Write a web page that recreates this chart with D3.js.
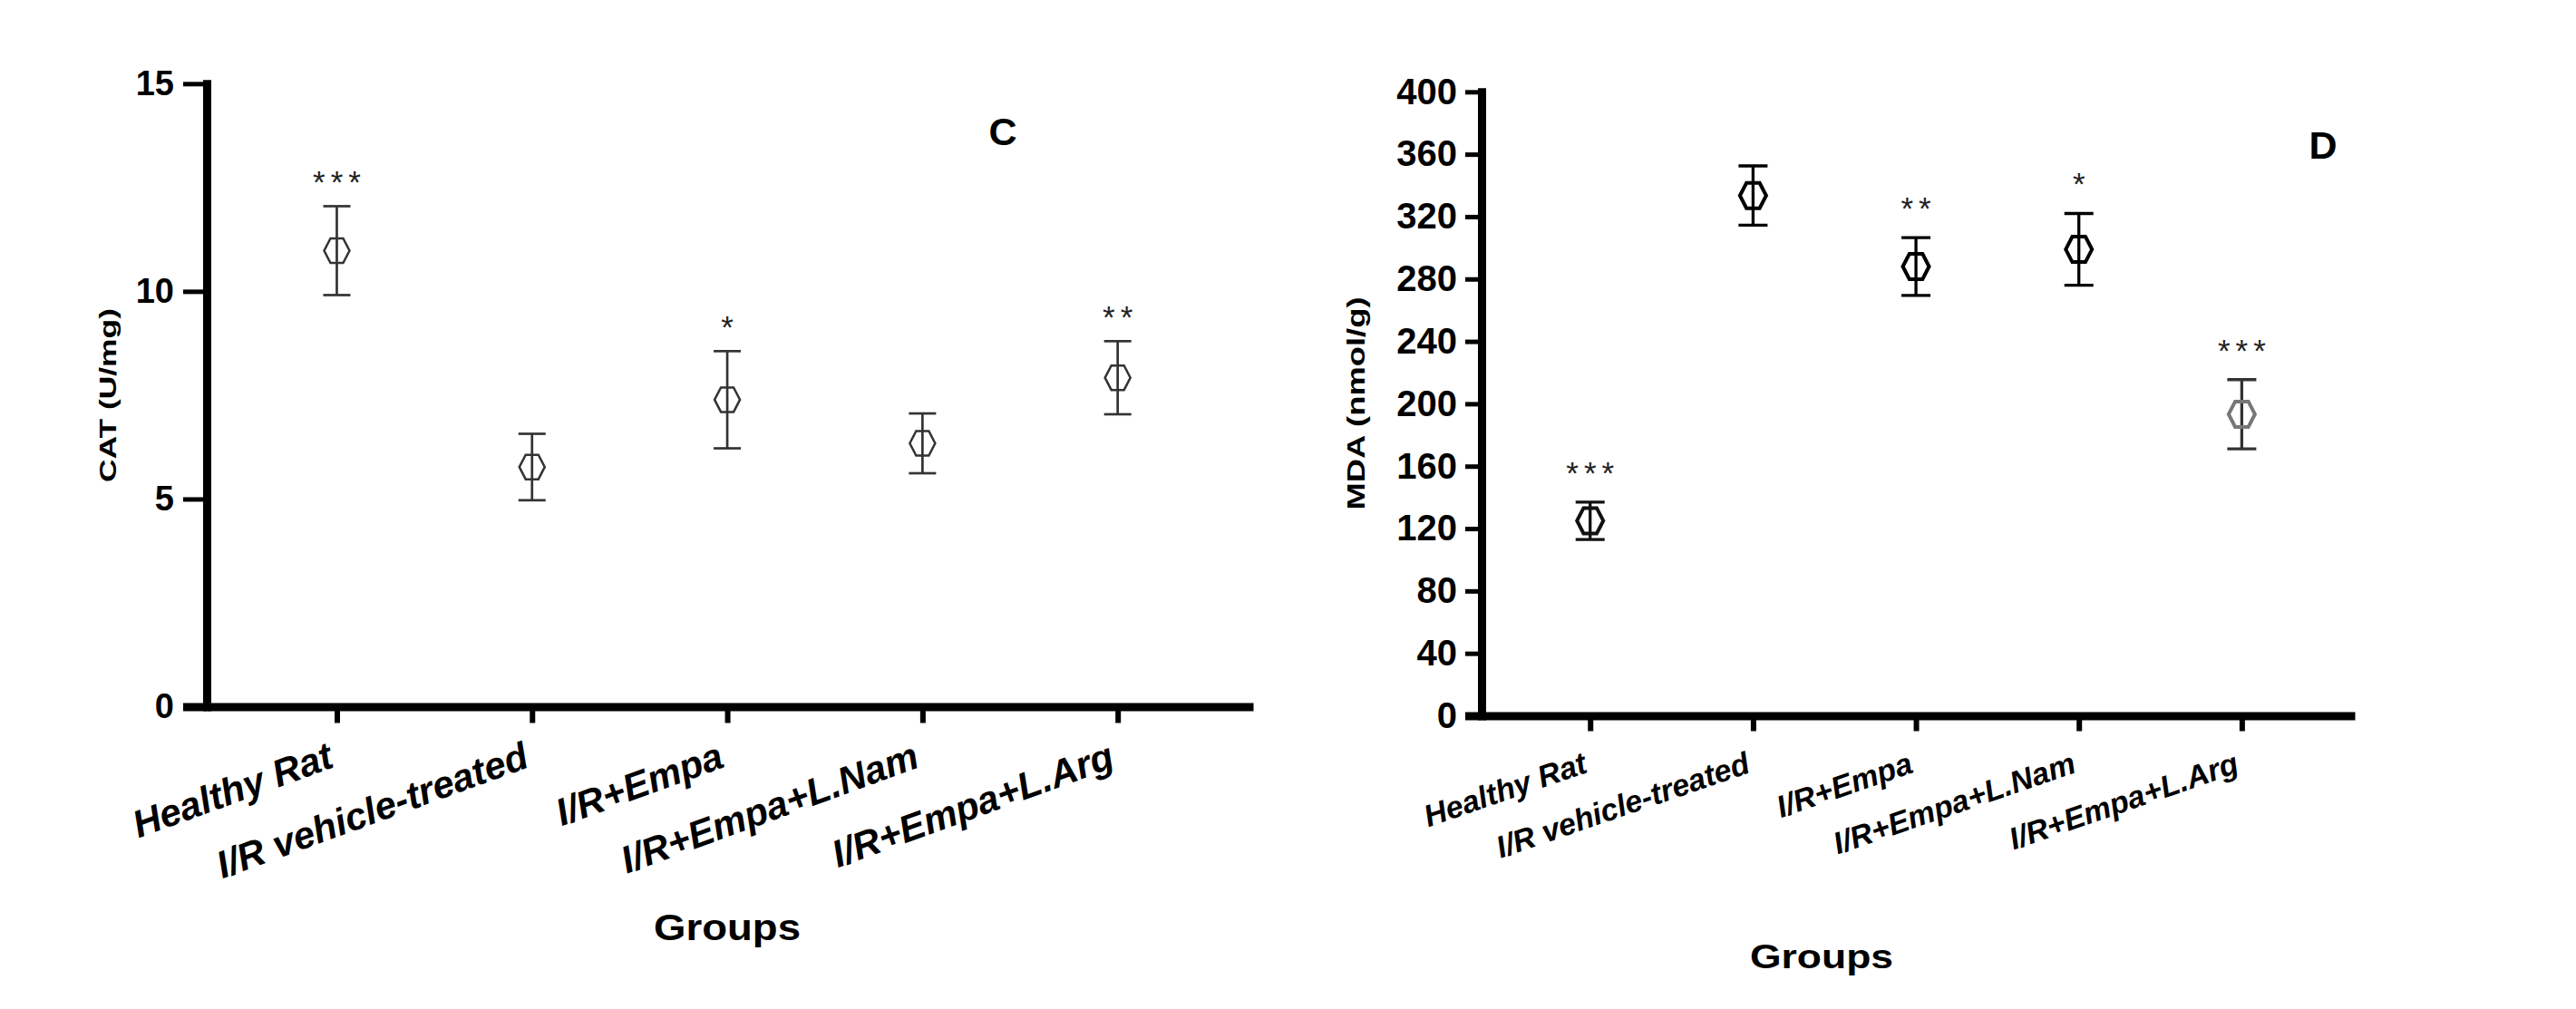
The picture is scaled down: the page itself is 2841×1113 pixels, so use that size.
<!DOCTYPE html>
<html lang="en">
<head>
<meta charset="UTF-8">
<title>CAT and MDA by group</title>
<script src="https://d3js.org/d3.v7.min.js"></script>
<style>
    body { margin: 0; background: #fff; }
    svg { display: block; font-family: "Liberation Sans", Arial, sans-serif; }
</style>
</head>
<body>
<div id="chart"></div>
<script>
// data
const groups = ["Healthy Rat", "I/R vehicle-treated", "I/R+Empa", "I/R+Empa+L.Nam", "I/R+Empa+L.Arg"];

const catMean  = [10.98, 5.77, 7.39, 6.34, 7.92];
const catErr   = [1.07, 0.80, 1.17, 0.72, 0.88];
const catStars = ["***", "", "*", "", "**"];
const catTicks = [0, 5, 10, 15];

const mdaMean  = [125, 333.5, 288, 299, 193.3];
const mdaErr   = [12, 19, 18.5, 23, 22.2];
const mdaStars = ["***", "", "**", "*", "***"];
const mdaTicks = [0, 40, 80, 120, 160, 200, 240, 280, 320, 360, 400];

const W = 2841, H = 1113;
const svg = d3.select("#chart").append("svg")
    .attr("width", W).attr("height", H);
svg.append("rect").attr("width", W).attr("height", H).attr("fill", "#fff");

function hexPath(rw, rh) {
    return `M${-rw},0L${-rw / 2},${-rh}L${rw / 2},${-rh}L${rw},0L${rw / 2},${rh}L${-rw / 2},${rh}Z`;
}

function drawPanel(p) {
    const g = svg.append("g");

    const x = d3.scalePoint()
        .domain(groups)
        .range([p.x0, p.x1])
        .padding(0.68)
        .align(0.49);

    const y = d3.scaleLinear()
        .domain([0, p.ticks[p.ticks.length - 1]])
        .range([p.y0, p.y1]);

    // y axis
    const ya = g.append("g")
        .attr("transform", `translate(${p.x0},0)`)
        .call(d3.axisLeft(y).tickValues(p.ticks).tickSize(p.yTick).tickSizeOuter(0).tickPadding(p.yPad));
    ya.select(".domain").attr("stroke", "#000").attr("stroke-width", 9).attr("stroke-linecap", "square");
    ya.selectAll(".tick line").attr("stroke", "#000").attr("stroke-width", d => d === 0 ? 9 : 5);
    ya.selectAll(".tick text")
        .attr("fill", "#000")
        .style("font-size", p.yFont + "px")
        .style("font-weight", "bold")
        .style("font-family", "'Liberation Sans', Arial, sans-serif");

    // x axis
    const xa = g.append("g")
        .attr("transform", `translate(0,${p.y0})`)
        .call(d3.axisBottom(x).tickSize(p.xTick).tickSizeOuter(0));
    xa.select(".domain").attr("stroke", "#000").attr("stroke-width", 9);
    xa.selectAll(".tick line").attr("stroke", "#000").attr("stroke-width", 6);
    xa.selectAll(".tick text")
        .attr("fill", "#000")
        .attr("x", 0).attr("y", 0).attr("dy", 0)
        .attr("text-anchor", "end")
        .attr("transform", `translate(${p.lblDx},${p.lblDy}) rotate(${p.lblRot})`)
        .style("font-size", p.xFont + "px")
        .style("font-weight", "bold")
        .style("font-style", "italic")
        .style("font-family", "'Liberation Sans', Arial, sans-serif");

    const rows = groups.map((k, i) => ({ k, m: p.mean[i], e: p.err[i], s: p.stars[i], c: p.colors[i] }));

    // error bars
    const eb = g.selectAll(".eb").data(rows).enter().append("g")
        .attr("stroke", d => d.c.bar)
        .attr("stroke-width", p.barW);
    eb.append("line")
        .attr("x1", d => x(d.k)).attr("x2", d => x(d.k))
        .attr("y1", d => y(d.m - d.e)).attr("y2", d => y(d.m + d.e));
    eb.append("line")
        .attr("x1", d => x(d.k) - p.cap).attr("x2", d => x(d.k) + p.cap)
        .attr("y1", d => y(d.m + d.e)).attr("y2", d => y(d.m + d.e));
    eb.append("line")
        .attr("x1", d => x(d.k) - p.cap).attr("x2", d => x(d.k) + p.cap)
        .attr("y1", d => y(d.m - d.e)).attr("y2", d => y(d.m - d.e));

    // markers
    g.selectAll(".mk").data(rows).enter().append("path")
        .attr("transform", d => `translate(${x(d.k)},${y(d.m)})`)
        .attr("d", hexPath(p.rw, p.rh))
        .attr("fill", "none")
        .attr("stroke", d => d.c.mark)
        .attr("stroke-width", p.markW);

    // significance stars
    g.selectAll(".st").data(rows.filter(d => d.s)).enter().append("text")
        .attr("x", d => x(d.k) + 3)
        .attr("y", d => y(d.m + d.e) - p.starOff)
        .attr("text-anchor", "middle")
        .style("font-size", "35px")
        .style("letter-spacing", "6px")
        .attr("fill", "#222")
        .text(d => d.s);

    // y title
    g.append("text")
        .attr("transform", `translate(${p.titleX},${p.titleY}) rotate(-90)`)
        .attr("text-anchor", "middle")
        .attr("textLength", p.titleLen)
        .attr("lengthAdjust", "spacingAndGlyphs")
        .style("font-size", p.titleFont + "px")
        .style("font-weight", "bold")
        .text(p.title);

    // x title
    g.append("text")
        .attr("x", p.groupsX).attr("y", p.groupsY)
        .attr("text-anchor", "middle")
        .attr("textLength", p.groupsLen)
        .attr("lengthAdjust", "spacingAndGlyphs")
        .style("font-size", p.groupsFont + "px")
        .style("font-weight", "bold")
        .text("Groups");

    // panel letter
    g.append("text")
        .attr("x", p.letterX).attr("y", p.letterY)
        .attr("text-anchor", "middle")
        .style("font-size", "43px")
        .style("font-weight", "bold")
        .text(p.letter);
}

const grey = { bar: "#333", mark: "#333" };

drawPanel({
    x0: 228, x1: 1382, y0: 779.5, y1: 92.3,
    ticks: catTicks, mean: catMean, err: catErr, stars: catStars,
    colors: groups.map(() => grey),
    yTick: 26, yPad: 10, yFont: 38,
    xTick: 18, xFont: 42, lblDx: -2, lblDy: 66, lblRot: -20,
    barW: 2.7, cap: 15, rw: 14, rh: 13.5, markW: 2.5, starOff: 14,
    title: "CAT (U/mg)", titleX: 128, titleY: 436, titleLen: 192, titleFont: 25,
    groupsX: 802, groupsY: 1037, groupsLen: 162, groupsFont: 40,
    letter: "C", letterX: 1106, letterY: 160
});

drawPanel({
    x0: 1634, x1: 2597, y0: 789.5, y1: 101.3,
    ticks: mdaTicks, mean: mdaMean, err: mdaErr, stars: mdaStars,
    colors: [
        { bar: "#111", mark: "#111" },
        { bar: "#000", mark: "#000" },
        { bar: "#000", mark: "#000" },
        { bar: "#000", mark: "#000" },
        { bar: "#333", mark: "#777" }
    ],
    yTick: 18, yPad: 9, yFont: 40,
    xTick: 17, xFont: 34, lblDx: -2, lblDy: 62, lblRot: -19,
    barW: 3.3, cap: 16, rw: 14.5, rh: 14, markW: 4, starOff: 20,
    title: "MDA (nmol/g)", titleX: 1505, titleY: 445, titleLen: 235, titleFont: 28,
    groupsX: 2009, groupsY: 1068, groupsLen: 158, groupsFont: 36,
    letter: "D", letterX: 2562, letterY: 175
});
</script>
</body>
</html>
